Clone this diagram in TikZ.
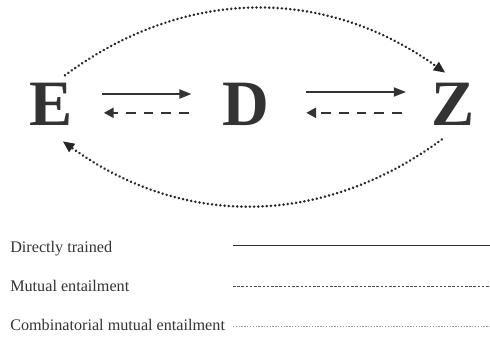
\documentclass[tikz,border=0pt]{standalone}
\usepackage{fontspec}
\setmainfont{Liberation Serif}
\usetikzlibrary{arrows.meta}
\begin{document}
\begin{tikzpicture}[
    x=0.025cm, y=-0.025cm,
    letter/.style={inner sep=0pt, text=black!80, font=\fontsize{46}{46}\selectfont\bfseries},
    legend/.style={anchor=base west, inner sep=0pt, text=black!80, font=\fontsize{11.5}{12}\selectfont},
    trained/.style={draw=black!80, line width=1pt, -{Triangle[length=8.5pt, width=6.5pt]}},
    mutual/.style={draw=black!80, line width=1.8pt, dash pattern=on 7pt off 5.5pt, -{Triangle[length=7pt, width=7pt]}},
    combi/.style={draw=black!85, line width=1.9pt, line cap=round, dash pattern=on 0.1pt off 2.9pt, -{Triangle[length=8pt, width=7.5pt, line width=0pt]}}
]
    \useasboundingbox (0,0) rectangle (490,337);
    \node[letter] (E) at (51,104) {E};
    \node[letter] (D) at (246,104) {D};
    \node[letter] (Z) at (453,104) {Z};

    \draw[trained, shorten <=21pt, shorten >=22pt] ([yshift=0.25cm]E.east) -- ([yshift=0.25cm]D.west);
    \draw[mutual, shorten <=24pt, shorten >=22pt] ([yshift=-0.22cm]D.west) -- ([yshift=-0.22cm]E.east);
    \draw[trained, shorten <=26pt, shorten >=18pt] ([yshift=0.3cm]D.east) -- ([yshift=0.3cm]Z.west);
    \draw[mutual, shorten <=21pt, shorten >=26pt] ([yshift=-0.22cm]Z.west) -- ([yshift=-0.22cm]D.east);

    % combinatorial entailment between E and Z
    \draw[combi] ([xshift=-0.2cm, yshift=0.18cm]E.north east) to[bend left=36] ([xshift=-0.2cm, yshift=0.25cm]Z.north);
    \draw[combi] ([xshift=-0.28cm, yshift=-0.35cm]Z.south) to[bend left=36] ([xshift=0.3cm, yshift=-0.4cm]E.south);

    % legend
    \node[legend] (lgtrained) at (10,252) {Directly trained};
    \node[legend] (lgmutual) at (10,291) {Mutual entailment};
    \node[legend] (lgcombi) at (10,330) {Combinatorial mutual entailment};
    \coordinate (lt1) at (233,245);
    \coordinate (lt2) at (490,245);
    \coordinate (lm1) at (233,286);
    \coordinate (lm2) at (490,286);
    \coordinate (lc1) at (233,326);
    \coordinate (lc2) at (490,326);
    \draw[black!80, line width=0.7pt] (lt1) -- (lt2);
    \draw[black!70, line width=0.5pt, dash pattern=on 1.8pt off 1.2pt] (lm1) -- (lm2);
    \draw[black!40, line width=0.5pt, dash pattern=on 1pt off 1pt] (lc1) -- (lc2);
\end{tikzpicture}
\end{document}
